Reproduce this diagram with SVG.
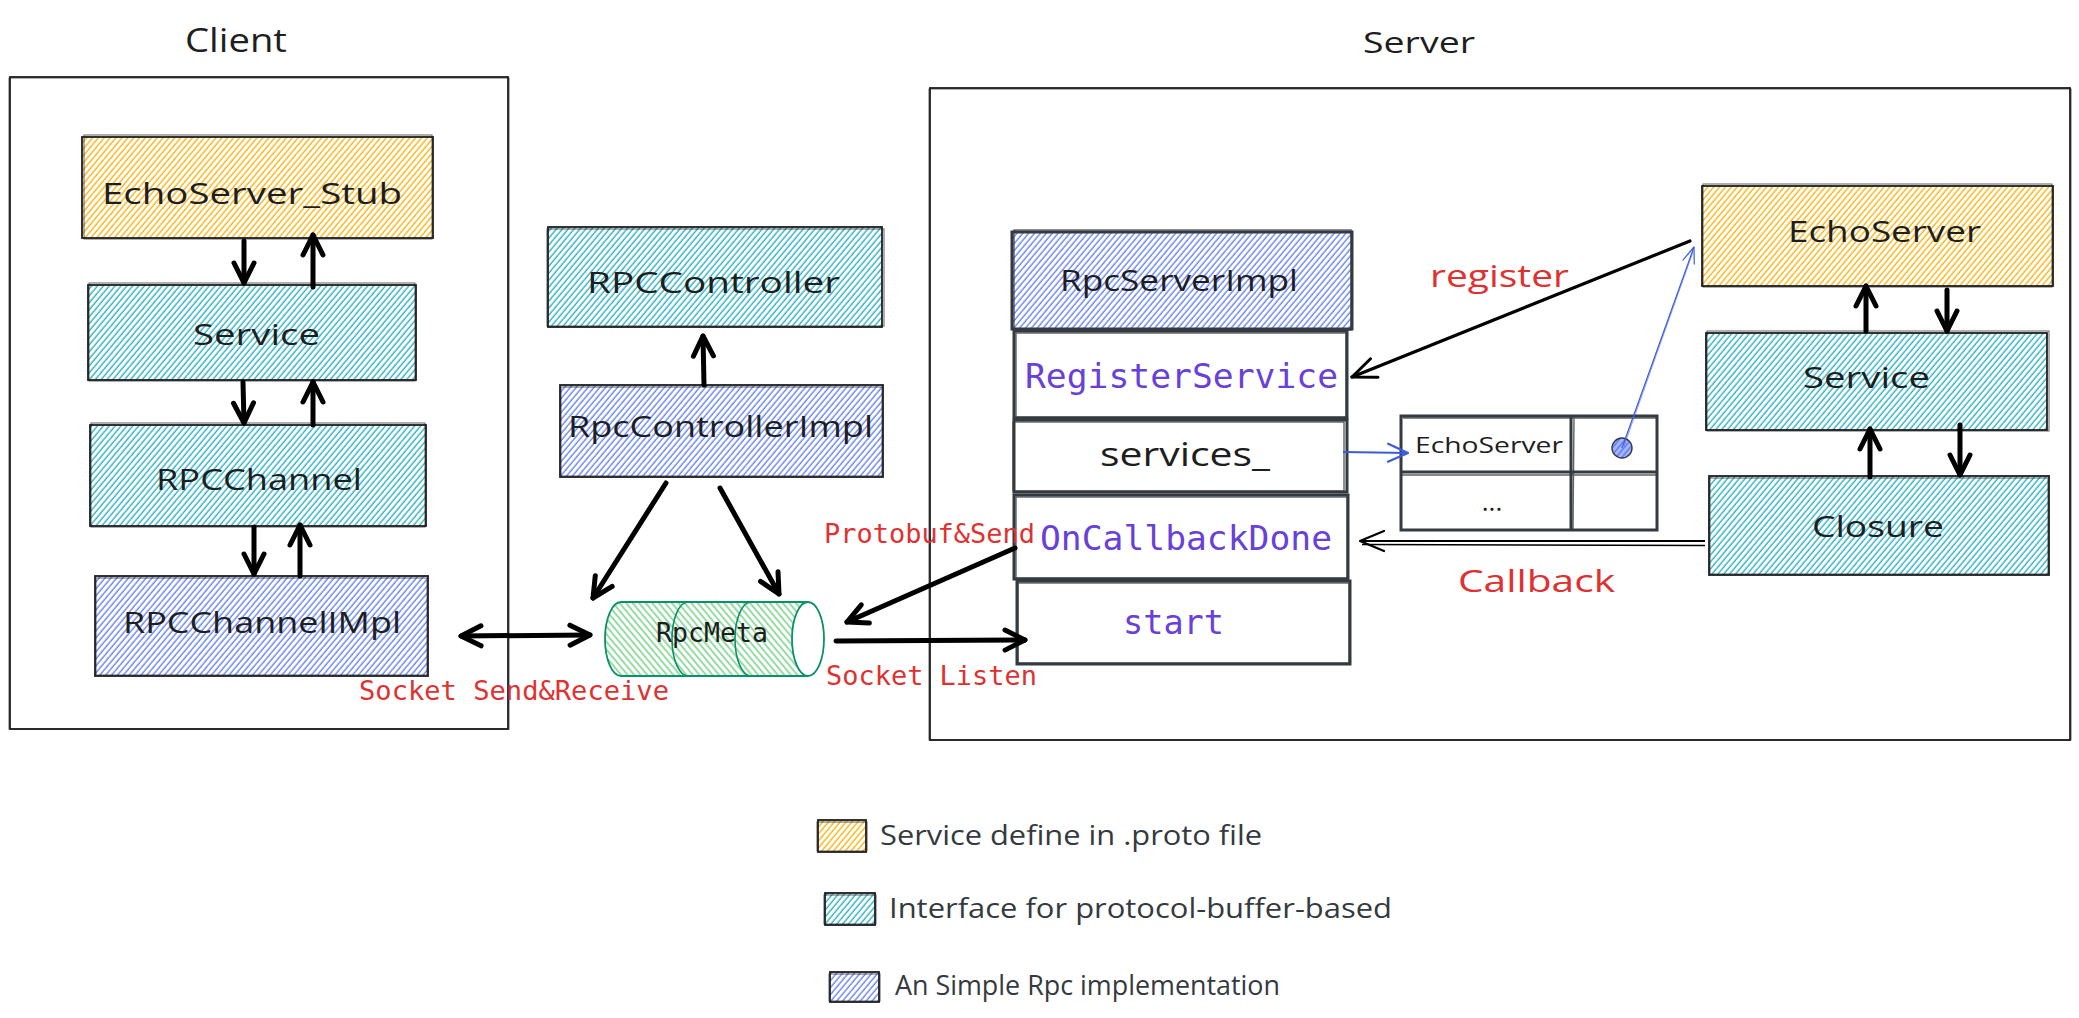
<svg xmlns="http://www.w3.org/2000/svg" width="2079" height="1018" viewBox="0 0 2079 1018">
<style>
.hand{font-family:"Open Sans","Noto Sans","DejaVu Sans",sans-serif;fill:#1e1e1e;font-weight:500}
.leg{font-family:"Open Sans","Noto Sans","DejaVu Sans",sans-serif;fill:#343a40;font-size:28px}
.mono{font-family:"DejaVu Sans Mono","Liberation Mono",monospace}
.red{fill:#e03131}
.pur{fill:#6741d9}
.b1{fill:none;stroke:#1e1e1e;stroke-width:1.8}
.b2{fill:none;stroke:#1e1e1e;stroke-width:1;opacity:.7}
.c1{fill:none;stroke:#343a40;stroke-width:3}
.c2{fill:none;stroke:#343a40;stroke-width:1.4;opacity:.8}
.ar{fill:none;stroke:#000;stroke-width:5;stroke-linecap:round}
.fy{fill:url(#hy)}
.fc{fill:url(#hc)}
.fb{fill:url(#hb)}
.fg{fill:url(#hg)}
</style>
<defs>
<pattern id="hy" patternUnits="userSpaceOnUse" width="4.5" height="10" patternTransform="rotate(40)"><line x1="2" y1="-1" x2="2" y2="11" stroke="#fab005" stroke-width="1.4" opacity=".95"/></pattern>
<pattern id="hc" patternUnits="userSpaceOnUse" width="4.5" height="10" patternTransform="rotate(40)"><line x1="2" y1="-1" x2="2" y2="11" stroke="#15aabf" stroke-width="1.4" opacity=".9"/></pattern>
<pattern id="hb" patternUnits="userSpaceOnUse" width="4.5" height="10" patternTransform="rotate(40)"><line x1="2" y1="-1" x2="2" y2="11" stroke="#4c6ef5" stroke-width="1.4" opacity=".85"/></pattern>
<pattern id="hg" patternUnits="userSpaceOnUse" width="5" height="10" patternTransform="rotate(-40)"><line x1="2" y1="-1" x2="2" y2="11" stroke="#40c057" stroke-width="1.3" opacity=".85"/></pattern>
<marker id="ah" viewBox="-26 -16 30 32" refX="0" refY="0" markerWidth="30" markerHeight="32" markerUnits="userSpaceOnUse" orient="auto" overflow="visible"><path d="M-20,-10 L0,0 L-20,10" fill="none" stroke="#000" stroke-width="5" stroke-linecap="round" stroke-linejoin="round"/></marker>
<marker id="ahr" viewBox="-26 -16 30 32" refX="0" refY="0" markerWidth="30" markerHeight="32" markerUnits="userSpaceOnUse" orient="auto-start-reverse" overflow="visible"><path d="M-20,-10 L0,0 L-20,10" fill="none" stroke="#000" stroke-width="5" stroke-linecap="round" stroke-linejoin="round"/></marker>
<marker id="ahm" viewBox="-30 -16 34 32" refX="0" refY="0" markerWidth="34" markerHeight="32" markerUnits="userSpaceOnUse" orient="auto" overflow="visible"><path d="M-24,-10 L0,0 L-24,10" fill="none" stroke="#000" stroke-width="3" stroke-linecap="round" stroke-linejoin="round"/></marker>
<marker id="ahc" viewBox="-30 -16 34 32" refX="0" refY="0" markerWidth="34" markerHeight="32" markerUnits="userSpaceOnUse" orient="auto" overflow="visible"><path d="M-24,-10 L0,0 L-24,10" fill="none" stroke="#000" stroke-width="2.2" stroke-linecap="round" stroke-linejoin="round"/></marker>
<marker id="ahb" viewBox="-26 -14 30 28" refX="0" refY="0" markerWidth="30" markerHeight="28" markerUnits="userSpaceOnUse" orient="auto" overflow="visible"><path d="M-20,-9 L0,0 L-20,9" fill="none" stroke="#3b5bdb" stroke-width="2.2" stroke-linecap="round" stroke-linejoin="round"/></marker>
<marker id="ahbt" viewBox="-20 -10 24 20" refX="0" refY="0" markerWidth="24" markerHeight="20" markerUnits="userSpaceOnUse" orient="auto" overflow="visible"><path d="M-16,-6 L0,0 L-16,6" fill="none" stroke="#3b5bdb" stroke-width="1.2" stroke-linecap="round" stroke-linejoin="round"/></marker>
</defs>
<rect x="0" y="0" width="2079" height="1018" fill="#ffffff"/>

<g id="client-frame">
<rect class="b1" x="10" y="77" width="498" height="652"/>
<rect class="b2" x="9" y="78" width="500" height="651"/>
<text class="hand" x="185" y="52" font-size="32" textLength="102" lengthAdjust="spacingAndGlyphs">Client</text>
</g>

<g id="server-frame">
<rect class="b1" x="930" y="88" width="1140" height="652"/>
<rect class="b2" x="929" y="89" width="1142" height="651"/>
<text class="hand" x="1363" y="53" font-size="30" textLength="112" lengthAdjust="spacingAndGlyphs">Server</text>
</g>

<g id="echoserver-stub">
<rect class="fy" x="82" y="137" width="351" height="101"/>
<rect class="b1" x="82" y="137" width="351" height="101"/>
<rect class="b2" x="84" y="135" width="348" height="104"/>
<text class="hand" x="102" y="204" font-size="30" textLength="300" lengthAdjust="spacingAndGlyphs">EchoServer_Stub</text>
</g>

<g id="client-service">
<rect class="fc" x="88" y="285" width="328" height="95"/>
<rect class="b1" x="88" y="285" width="328" height="95"/>
<rect class="b2" x="89" y="283" width="326" height="98"/>
<text class="hand" x="193" y="345" font-size="30" textLength="127" lengthAdjust="spacingAndGlyphs">Service</text>
</g>

<g id="rpcchannel">
<rect class="fc" x="90" y="425" width="336" height="101"/>
<rect class="b1" x="90" y="425" width="336" height="101"/>
<rect class="b2" x="91" y="423" width="334" height="104"/>
<text class="hand" x="156" y="490" font-size="30" textLength="206" lengthAdjust="spacingAndGlyphs">RPCChannel</text>
</g>

<g id="rpcchannelimpl">
<rect class="fb" x="95" y="576" width="333" height="100"/>
<rect class="b1" x="95" y="576" width="333" height="100"/>
<rect class="b2" x="96" y="578" width="331" height="97"/>
<text class="hand" x="123" y="633" font-size="30" textLength="278" lengthAdjust="spacingAndGlyphs">RPCChannelIMpl</text>
</g>

<g id="rpccontroller">
<rect class="fc" x="548" y="227" width="334" height="100"/>
<rect class="b1" x="548" y="227" width="334" height="100"/>
<rect class="b2" x="547" y="229" width="337" height="97"/>
<text class="hand" x="587" y="293" font-size="30" textLength="253" lengthAdjust="spacingAndGlyphs">RPCController</text>
</g>

<g id="rpccontrollerimpl">
<rect class="fb" x="560" y="385" width="323" height="92"/>
<rect class="b1" x="560" y="385" width="323" height="92"/>
<rect class="b2" x="561" y="387" width="321" height="89"/>
<text class="hand" x="568" y="437" font-size="30" textLength="305" lengthAdjust="spacingAndGlyphs">RpcControllerImpl</text>
</g>

<g id="rpcmeta">
<path class="fg" d="M621,602 L808,602 A16,37 0 0,1 808,676 L621,676 A16,37 0 0,1 621,602 Z"/>
<path d="M621,602 L808,602 M621,676 L808,676 M621,676 A16,37 0 0,1 621,602" fill="none" stroke="#099268" stroke-width="1.8"/>
<path d="M688,602 A16,37 0 0,0 688,676 M751,602 A16,37 0 0,0 751,676" fill="none" stroke="#099268" stroke-width="1.6"/>
<ellipse cx="808" cy="639" rx="16" ry="37" fill="#ffffff" stroke="#099268" stroke-width="1.8"/>
<text class="mono" x="656" y="642" font-size="26" fill="#1e1e1e" textLength="112" lengthAdjust="spacingAndGlyphs">RpcMeta</text>
</g>

<g id="rpcserverimpl">
<rect class="fb" x="1012" y="232" width="340" height="97"/>
<rect class="c1" x="1012" y="232" width="340" height="97"/>
<rect class="c2" x="1014" y="230" width="337" height="100"/>
<text class="hand" x="1060" y="291" font-size="30" textLength="238" lengthAdjust="spacingAndGlyphs">RpcServerImpl</text>
</g>

<g id="registerservice">
<rect class="c1" x="1014" y="331" width="333" height="87"/>
<rect class="c2" x="1016" y="333" width="330" height="84"/>
<text class="mono pur" x="1025" y="388" font-size="34.5" textLength="313" lengthAdjust="spacingAndGlyphs">RegisterService</text>
</g>

<g id="services">
<rect class="c1" x="1014" y="420" width="333" height="72"/>
<rect class="c2" x="1013" y="422" width="331" height="69"/>
<text class="hand" x="1100" y="466" font-size="32" textLength="170" lengthAdjust="spacingAndGlyphs">services_</text>
</g>

<g id="oncallbackdone">
<rect class="c1" x="1014" y="495" width="334" height="84"/>
<rect class="c2" x="1016" y="497" width="331" height="81"/>
<text class="mono pur" x="1040" y="550" font-size="34.5" textLength="292" lengthAdjust="spacingAndGlyphs">OnCallbackDone</text>
</g>

<g id="start">
<rect class="c1" x="1017" y="581" width="333" height="83"/>
<rect class="c2" x="1018" y="583" width="331" height="80"/>
<text class="mono pur" x="1123" y="634" font-size="34.5" textLength="101" lengthAdjust="spacingAndGlyphs">start</text>
</g>

<g id="services-table">
<rect class="c1" x="1401" y="416" width="256" height="114"/>
<path class="c1" d="M1571,416 L1571,530 M1401,472 L1657,472"/>
<path class="c2" d="M1403,418 L1656,418 M1574,417 L1573,529 M1402,475 L1656,475"/>
<text class="hand" x="1415" y="453" font-size="22" textLength="148" lengthAdjust="spacingAndGlyphs">EchoServer</text>
<text class="hand" x="1492" y="511" font-size="26" font-weight="700" text-anchor="middle">...</text>
<circle cx="1622" cy="448" r="10" fill="#a5b4fc"/>
<circle cx="1622" cy="448" r="10" fill="url(#hb)" stroke="#343a40" stroke-width="1.4"/>
</g>

<g id="echoserver">
<rect class="fy" x="1702" y="186" width="351" height="100"/>
<rect class="b1" x="1702" y="186" width="351" height="100"/>
<rect class="b2" x="1703" y="184" width="349" height="103"/>
<text class="hand" x="1788" y="242" font-size="30" textLength="193" lengthAdjust="spacingAndGlyphs">EchoServer</text>
</g>

<g id="server-service">
<rect class="fc" x="1706" y="333" width="341" height="97"/>
<rect class="b1" x="1706" y="333" width="341" height="97"/>
<rect class="b2" x="1707" y="331" width="342" height="100"/>
<text class="hand" x="1803" y="388" font-size="30" textLength="127" lengthAdjust="spacingAndGlyphs">Service</text>
</g>

<g id="closure">
<rect class="fc" x="1709" y="476" width="340" height="99"/>
<rect class="b1" x="1709" y="476" width="340" height="99"/>
<rect class="b2" x="1710" y="478" width="338" height="96"/>
<text class="hand" x="1812" y="537" font-size="30" textLength="132" lengthAdjust="spacingAndGlyphs">Closure</text>
</g>

<g id="connectors">
<path class="ar" d="M244,241 L244,283" marker-end="url(#ah)"/>
<path class="ar" d="M313,287 L313,235" marker-end="url(#ah)"/>
<path class="ar" d="M243,382 L244,423" marker-end="url(#ah)"/>
<path class="ar" d="M313,425 L313,382" marker-end="url(#ah)"/>
<path class="ar" d="M254,527 L254,574" marker-end="url(#ah)"/>
<path class="ar" d="M300,576 L300,525" marker-end="url(#ah)"/>
<path class="ar" d="M461,636 L590,635" marker-start="url(#ahr)" marker-end="url(#ahr)"/>
<path class="ar" d="M704,385 L703,336" marker-end="url(#ah)"/>
<path class="ar" d="M666,483 L593,598" marker-end="url(#ah)"/>
<path class="ar" d="M720,488 L779,594" marker-end="url(#ah)"/>
<path class="ar" d="M1015,548 L847,622" marker-end="url(#ah)"/>
<path class="ar" d="M836,641 L1025,640" marker-end="url(#ah)"/>
<path d="M1690,241 L1352,377" fill="none" stroke="#000" stroke-width="3.2" stroke-linecap="round" marker-end="url(#ahm)"/>
<path d="M1343,452 L1408,453" fill="none" stroke="#3b5bdb" stroke-width="2.2" marker-end="url(#ahb)"/>
<path d="M1622,448 L1694,247" fill="none" stroke="#3b5bdb" stroke-width="1.2" marker-end="url(#ahbt)"/>
<path d="M1624,446 L1693,252" fill="none" stroke="#3b5bdb" stroke-width="0.8" opacity=".7"/>
<path d="M1705,541 L1360,541" fill="none" stroke="#000" stroke-width="2.2" marker-end="url(#ahc)"/>
<path d="M1705,545.5 L1362,544.5" fill="none" stroke="#000" stroke-width="1.6"/>
<path class="ar" d="M1866,331 L1866,286" marker-end="url(#ah)"/>
<path class="ar" d="M1947,290 L1947,331" marker-end="url(#ah)"/>
<path class="ar" d="M1870,477 L1870,429" marker-end="url(#ah)"/>
<path class="ar" d="M1960,425 L1960,475" marker-end="url(#ah)"/>
</g>

<g id="labels">
<text class="mono red" x="359" y="700" font-size="27" textLength="310" lengthAdjust="spacingAndGlyphs">Socket Send&amp;Receive</text>
<text class="mono red" x="824" y="543" font-size="27" textLength="211" lengthAdjust="spacingAndGlyphs">Protobuf&amp;Send</text>
<text class="mono red" x="826" y="685" font-size="27" textLength="211" lengthAdjust="spacingAndGlyphs">Socket Listen</text>
<text class="hand red" x="1430" y="287" font-size="31" textLength="139" lengthAdjust="spacingAndGlyphs">register</text>
<text class="hand red" x="1458" y="592" font-size="31" textLength="157" lengthAdjust="spacingAndGlyphs">Callback</text>
</g>

<g id="legend">
<rect class="fy" x="818" y="820" width="48" height="32"/>
<rect class="b1" x="818" y="820" width="48" height="32"/>
<rect class="b2" x="817" y="822" width="50" height="29"/>
<text class="leg" x="880" y="845" textLength="382" lengthAdjust="spacingAndGlyphs">Service define in .proto file</text>
<rect class="fc" x="825" y="893" width="50" height="32"/>
<rect class="b1" x="825" y="893" width="50" height="32"/>
<rect class="b2" x="824" y="895" width="52" height="29"/>
<text class="leg" x="889" y="918" textLength="503" lengthAdjust="spacingAndGlyphs">Interface for protocol-buffer-based</text>
<rect class="fb" x="830" y="972" width="49" height="30"/>
<rect class="b1" x="830" y="972" width="49" height="30"/>
<rect class="b2" x="829" y="974" width="51" height="27"/>
<text class="leg" x="895" y="995" textLength="385" lengthAdjust="spacingAndGlyphs">An Simple Rpc implementation</text>
</g>
</svg>
